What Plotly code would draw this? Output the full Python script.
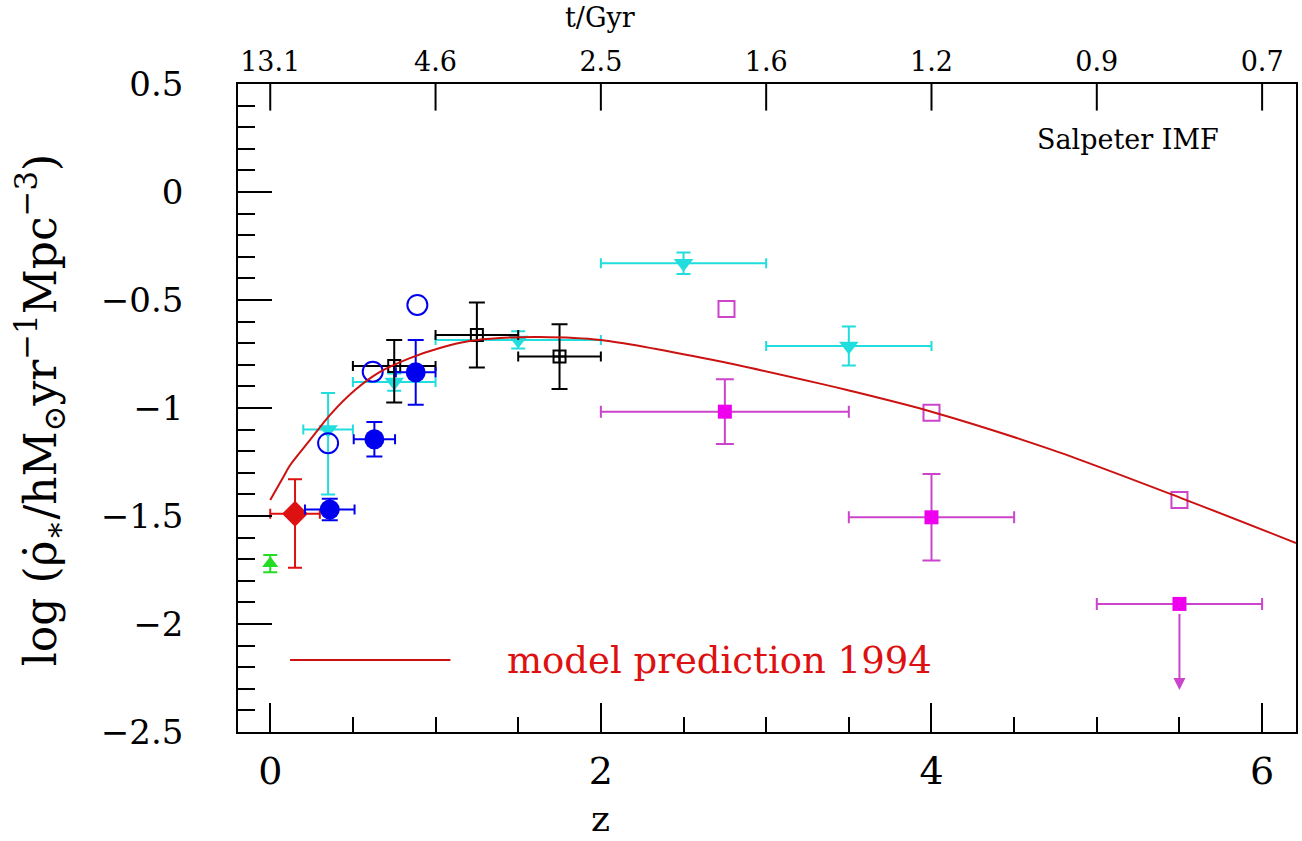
import plotly.graph_objects as go

FONT = "DejaVu Serif"

# ---------------- data ----------------
green_z = [0.0]
green_y = [-1.72]
green_ey = [0.04]

red_z = [0.15]
red_y = [-1.49]
red_ex = [0.15]
red_ey_plus = [0.16]
red_ey_minus = [0.25]

blue_filled_z = [0.36, 0.63, 0.88]
blue_filled_y = [-1.47, -1.145, -0.835]
blue_filled_ex = [0.15, 0.125, 0.12]
blue_filled_ey = [0.05, 0.08, 0.15]

blue_open_z = [0.35, 0.62, 0.89]
blue_open_y = [-1.163, -0.832, -0.523]

cyan_z = [0.35, 0.75, 1.5, 2.5, 3.5]
cyan_y = [-1.10, -0.88, -0.685, -0.33, -0.713]
cyan_ex = [0.15, 0.25, 0.5, 0.5, 0.5]
cyan_ey_plus = [0.17, 0.04, 0.04, 0.05, 0.09]
cyan_ey_minus = [0.30, 0.04, 0.04, 0.05, 0.09]

black_z = [0.75, 1.25, 1.75]
black_y = [-0.805, -0.662, -0.762]
black_ex = [0.25, 0.25, 0.25]
black_ey_plus = [0.12, 0.15, 0.15]
black_ey_minus = [0.17, 0.15, 0.15]

magenta_filled_z = [2.75, 4.0]
magenta_filled_y = [-1.017, -1.506]
magenta_filled_ex = [0.75, 0.5]
magenta_filled_ey = [0.15, 0.2]

magenta_open_z = [2.76, 4.0, 5.5]
magenta_open_y = [-0.542, -1.022, -1.426]

limit_z = [5.5]
limit_y = [-1.907]
limit_ex = [0.5]
limit_to = [-2.306]

model_z = [0.0, 0.08, 0.121, 0.241, 0.362, 0.513, 0.664, 0.845, 1.026, 1.207,
           1.388, 1.63, 2.0, 2.68, 3.32, 3.49, 4.0, 4.73, 5.51, 6.205]
model_y = [-1.426, -1.318, -1.264, -1.148, -1.032, -0.917, -0.833, -0.769, -0.722, -0.69,
           -0.676, -0.671, -0.685, -0.778, -0.886, -0.917, -1.017, -1.194, -1.417, -1.625]

top_tick_z = [0, 1, 2, 3, 4, 5, 6]
top_tick_labels = ["13.1", "4.6", "2.5", "1.6", "1.2", "0.9", "0.7"]

legend_line_z = [0.12, 1.09]
legend_y = -2.167
legend_text_z = 1.42

XR = [-0.195, 6.205]
YR = [-2.5, 0.5]

# ---------------- colours ----------------
C_GREEN = "#22dd22"
C_RED = "#dd1111"
C_BLUE = "#0000ee"
C_CYAN = "#22dddd"
C_BLACK = "#000000"
C_MAG = "#ee00ee"
C_MAG_ERR = "#cc44cc"
C_MODEL = "#cc1111"

fig = go.Figure()


def ebar(arr, minus=None, color="black", width=6):
    d = dict(type="data", array=arr, color=color, thickness=2, width=width, visible=True)
    if minus is not None:
        d["symmetric"] = False
        d["arrayminus"] = minus
    return d


fig.add_trace(go.Scatter(x=green_z, y=green_y, mode="markers",
                         marker=dict(symbol="triangle-up", size=14, color=C_GREEN),
                         error_y=ebar(green_ey, color=C_GREEN, width=7), showlegend=False))
fig.add_trace(go.Scatter(x=red_z, y=red_y, mode="markers",
                         marker=dict(symbol="diamond", size=20, color=C_RED),
                         error_x=ebar(red_ex, color=C_RED, width=5),
                         error_y=ebar(red_ey_plus, red_ey_minus, color=C_RED, width=7),
                         showlegend=False))
fig.add_trace(go.Scatter(x=cyan_z, y=cyan_y, mode="markers",
                         marker=dict(symbol="triangle-down", size=17, color=C_CYAN),
                         error_x=ebar(cyan_ex, color=C_CYAN, width=5),
                         error_y=ebar(cyan_ey_plus, cyan_ey_minus, color=C_CYAN, width=7),
                         showlegend=False))
fig.add_trace(go.Scatter(x=black_z, y=black_y, mode="markers",
                         marker=dict(symbol="square-cross-open", size=12, color=C_BLACK,
                                     line=dict(width=2)),
                         error_x=ebar(black_ex, color=C_BLACK, width=5),
                         error_y=ebar(black_ey_plus, black_ey_minus, color=C_BLACK, width=8),
                         showlegend=False))
fig.add_trace(go.Scatter(x=blue_filled_z, y=blue_filled_y, mode="markers",
                         marker=dict(symbol="circle", size=20, color=C_BLUE),
                         error_x=ebar(blue_filled_ex, color=C_BLUE, width=5),
                         error_y=ebar(blue_filled_ey, color=C_BLUE, width=8),
                         showlegend=False))
fig.add_trace(go.Scatter(x=blue_open_z, y=blue_open_y, mode="markers",
                         marker=dict(symbol="circle-open", size=20, color=C_BLUE,
                                     line=dict(width=2)),
                         showlegend=False))
fig.add_trace(go.Scatter(x=magenta_filled_z, y=magenta_filled_y, mode="markers",
                         marker=dict(symbol="square", size=14, color=C_MAG),
                         error_x=ebar(magenta_filled_ex, color=C_MAG_ERR, width=6),
                         error_y=ebar(magenta_filled_ey, color=C_MAG_ERR, width=9),
                         showlegend=False))
fig.add_trace(go.Scatter(x=magenta_open_z, y=magenta_open_y, mode="markers",
                         marker=dict(symbol="square-open", size=16, color=C_MAG_ERR,
                                     line=dict(width=2)),
                         showlegend=False))
fig.add_trace(go.Scatter(x=limit_z, y=limit_y, mode="markers",
                         marker=dict(symbol="square", size=14, color=C_MAG),
                         error_x=ebar(limit_ex, color=C_MAG_ERR, width=6),
                         showlegend=False))
for zz, y0, y1 in zip(limit_z, limit_y, limit_to):
    fig.add_annotation(x=zz, y=y1, ax=zz, ay=y0, xref="x", yref="y", axref="x", ayref="y",
                       showarrow=True, arrowhead=2, arrowsize=1.2, arrowwidth=2,
                       arrowcolor=C_MAG_ERR, text=" ")

fig.add_trace(go.Scatter(x=model_z, y=model_y, mode="lines",
                         line=dict(color=C_MODEL, width=2, shape="spline", smoothing=0.8),
                         name="model prediction 1994", showlegend=False))

# top (time) axis: tick marks hanging down from the top frame, clipped to the plot area
fig.add_trace(go.Scatter(x=top_tick_z, y=[YR[1]] * len(top_tick_z), xaxis="x2", yaxis="y",
                         mode="markers", cliponaxis=True,
                         marker=dict(symbol="line-ns", size=38, color="black",
                                     line=dict(width=2, color="black")),
                         showlegend=False, hoverinfo="skip"))

# legend key (line + text)
fig.add_trace(go.Scatter(x=legend_line_z, y=[legend_y, legend_y], mode="lines",
                         line=dict(color=C_MODEL, width=2), showlegend=False, hoverinfo="skip"))
fig.add_annotation(x=legend_text_z, y=legend_y, xref="x", yref="y", xanchor="left",
                   yanchor="middle", showarrow=False, text="model prediction 1994",
                   font=dict(family=FONT, size=37, color=C_RED))

fig.add_annotation(x=5.19, y=0.241, xref="x", yref="y", showarrow=False,
                   text="Salpeter IMF", font=dict(family=FONT, size=27, color="black"))

# axis titles
fig.add_annotation(x=-0.1868, y=0.497, xref="paper", yref="paper", showarrow=False,
                   textangle=-90, xanchor="center", yanchor="middle",
                   text="log (ρ̇<sub>∗</sub>/hM<sub>⊙</sub>yr<sup>−1</sup>Mpc<sup>−3</sup>)",
                   font=dict(family=FONT, size=44, color="black"))
fig.add_annotation(x=0.3425, y=-0.133, xref="paper", yref="paper", showarrow=False,
                   xanchor="center", yanchor="middle", text="z",
                   font=dict(family=FONT, size=36, color="black"))
fig.add_annotation(x=0.3425, y=1.102, xref="paper", yref="paper", showarrow=False,
                   xanchor="center", yanchor="middle", text="t/Gyr",
                   font=dict(family=FONT, size=27, color="black"))

fig.update_layout(
    width=1302, height=841,
    margin=dict(l=238, r=4, t=84, b=109),
    paper_bgcolor="white", plot_bgcolor="white",
    showlegend=False,
    xaxis=dict(range=XR, tickmode="linear", tick0=0, dtick=2,
               ticks="inside", ticklen=29, tickwidth=2, tickcolor="black",
               minor=dict(ticks="inside", tick0=0, dtick=0.5, ticklen=15, tickwidth=2,
                          tickcolor="black", showgrid=False),
               showline=True, linecolor="black", linewidth=2, mirror=False,
               showgrid=False, zeroline=False, ticklabelstandoff=4,
               tickfont=dict(family=FONT, size=38, color="black")),
    xaxis2=dict(range=XR, overlaying="x", side="top", anchor="y",
                tickmode="array", tickvals=top_tick_z, ticktext=top_tick_labels,
                ticks="", showline=True, linecolor="black", linewidth=2,
                showgrid=False, zeroline=False, ticklabelstandoff=0,
                tickfont=dict(family=FONT, size=27, color="black")),
    yaxis=dict(range=YR, tickmode="linear", tick0=0, dtick=0.5,
               ticks="inside", ticklen=34, tickwidth=2, tickcolor="black",
               minor=dict(ticks="inside", tick0=0, dtick=0.1, ticklen=17, tickwidth=2,
                          tickcolor="black", showgrid=False),
               showline=True, linecolor="black", linewidth=2, mirror=True,
               showgrid=False, zeroline=False, ticklabelstandoff=22,
               ticksuffix="\u2002\u2009",
               tickfont=dict(family=FONT, size=34, color="black")),
)

fig.write_html("out.html", config={"displayModeBar": False},
               post_script="document.body.style.margin='0px';document.body.style.overflow='hidden';")
